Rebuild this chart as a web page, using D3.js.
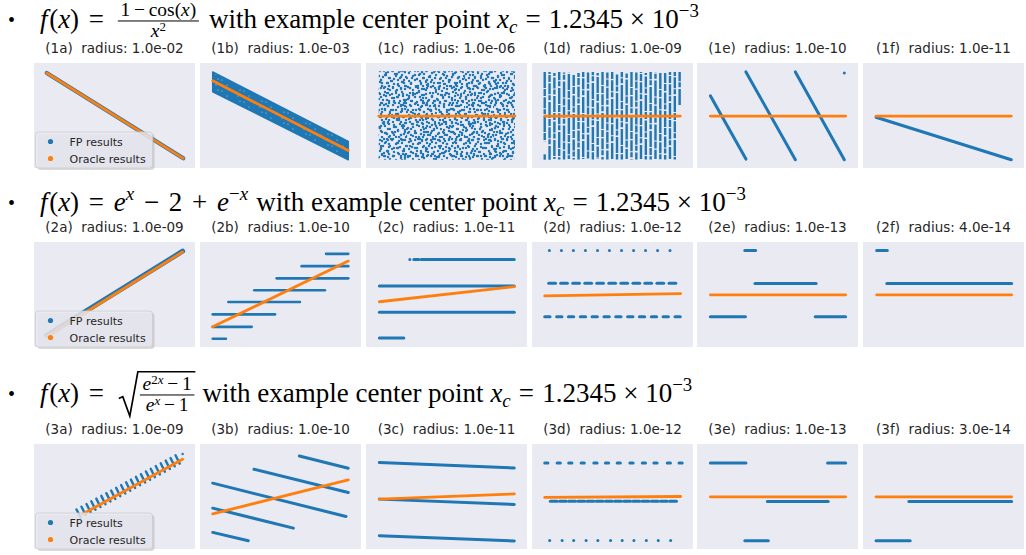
<!DOCTYPE html>
<html>
<head>
<meta charset="utf-8">
<script src="https://cdn.jsdelivr.net/npm/d3@7"></script>
<style>
  body { margin: 0; background: #fff; }
  svg { display: block; }
  .ptitle { font-family: "DejaVu Sans"; font-size: 13.5px; fill: #262626; }
  .legtext { font-family: "DejaVu Sans"; font-size: 11px; fill: #262626; }
  .hdr text { font-family: "Liberation Serif"; fill: #000; }
</style>
</head>
<body>
<svg id="chart" width="1026" height="555"></svg>
<script>
// ---- labels ----
const panelLetters = ['a', 'b', 'c', 'd', 'e', 'f'];
const radii = [
  ['1.0e-02', '1.0e-03', '1.0e-06', '1.0e-09', '1.0e-10', '1.0e-11'],
  ['1.0e-09', '1.0e-10', '1.0e-11', '1.0e-12', '1.0e-13', '4.0e-14'],
  ['1.0e-09', '1.0e-10', '1.0e-11', '1.0e-12', '1.0e-13', '3.0e-14']
];
const legendLabels = ['FP results', 'Oracle results'];
const centerMantissa = '1.2345';
const centerExponent = '−3';

// ---- data: segments [x0, y0, x1, y1] in panel units (0..1) ----
// row 1: (1 - cos x) / x^2
const fp1a = [[0.079, 0.905, 0.927, 0.092]];
const oracle1a = [0.079, 0.905, 0.927, 0.092];
const band1b = [[0.079, 0.915], [0.921, 0.252], [0.921, 0.079], [0.079, 0.726]];
const oracle1b = [0.079, 0.83, 0.921, 0.167];
const cloud1c = [0.079, 0.079, 0.925, 0.921];
const oracle1c = [0.079, 0.495, 0.925, 0.495];
const fp1d = [
  [0.079, 0.915, 0.079, 0.252], [0.079, 0.13, 0.079, 0.079],
  [0.109, 0.915, 0.109, 0.079], [0.139, 0.905, 0.139, 0.085],
  [0.169, 0.915, 0.169, 0.082], [0.199, 0.91, 0.199, 0.08],
  [0.229, 0.915, 0.229, 0.085], [0.259, 0.885, 0.259, 0.08],
  [0.289, 0.905, 0.289, 0.082], [0.318, 0.915, 0.318, 0.085],
  [0.348, 0.91, 0.348, 0.08], [0.378, 0.915, 0.378, 0.082],
  [0.408, 0.905, 0.408, 0.085], [0.438, 0.915, 0.438, 0.08],
  [0.468, 0.91, 0.468, 0.082], [0.498, 0.915, 0.498, 0.085],
  [0.528, 0.905, 0.528, 0.08], [0.558, 0.915, 0.558, 0.082],
  [0.588, 0.9, 0.588, 0.085], [0.618, 0.915, 0.618, 0.08],
  [0.648, 0.91, 0.648, 0.082], [0.677, 0.915, 0.677, 0.085],
  [0.707, 0.905, 0.707, 0.08], [0.737, 0.915, 0.737, 0.082],
  [0.767, 0.91, 0.767, 0.085], [0.797, 0.915, 0.797, 0.08],
  [0.827, 0.905, 0.827, 0.082], [0.857, 0.915, 0.857, 0.085],
  [0.887, 0.915, 0.887, 0.08], [0.917, 0.915, 0.917, 0.6]
];
const oracle1d = [0.079, 0.495, 0.921, 0.495];
const fp1e = [[0.083, 0.688, 0.304, 0.085], [0.304, 0.915, 0.611, 0.079],
              [0.611, 0.915, 0.915, 0.079], [0.915, 0.905, 0.915, 0.905]];
const oracle1e = [0.083, 0.495, 0.923, 0.495];
const fp1f = [[0.081, 0.483, 0.921, 0.079]];
const oracle1f = [0.081, 0.495, 0.921, 0.495];

// row 2: e^x - 2 + e^-x
const fp2a = [[0.079, 0.11, 0.923, 0.912]];
const oracle2a = [0.079, 0.10, 0.923, 0.905];
const fp2b = [
  [0.079, 0.079, 0.161, 0.079], [0.079, 0.192, 0.321, 0.192],
  [0.079, 0.311, 0.466, 0.311], [0.176, 0.428, 0.621, 0.428],
  [0.337, 0.541, 0.776, 0.541], [0.476, 0.654, 0.921, 0.654],
  [0.631, 0.770, 0.921, 0.770], [0.783, 0.887, 0.921, 0.887]
];
const oracle2b = [0.079, 0.192, 0.921, 0.818];
const fp2c = [
  [0.272, 0.833, 0.272, 0.833], [0.297, 0.833, 0.328, 0.833],
  [0.343, 0.833, 0.921, 0.833], [0.083, 0.582, 0.921, 0.582],
  [0.083, 0.330, 0.921, 0.330], [0.083, 0.085, 0.235, 0.085]
];
const oracle2c = [0.083, 0.431, 0.921, 0.575];
const dotsTop2d = [0.108, 0.183, 0.257, 0.332, 0.407, 0.481, 0.556, 0.631, 0.705, 0.780, 0.857];
const dashMid2d = [0.104, 0.178, 0.253, 0.328, 0.402, 0.477, 0.552, 0.627, 0.701, 0.776, 0.851];
const dashLow2d = [0.079, 0.153, 0.226, 0.300, 0.373, 0.447, 0.520, 0.594, 0.667, 0.741, 0.814, 0.888];
const fp2d = [].concat(
  dotsTop2d.map(x => [x, 0.918, x, 0.918]),
  dashMid2d.map(x => [x, 0.607, x + 0.042, 0.607]),
  dashLow2d.map(x => [x, 0.289, x + 0.033, 0.289])
);
const oracle2d = [0.079, 0.487, 0.923, 0.509];
const fp2e = [[0.297, 0.918, 0.364, 0.918], [0.360, 0.604, 0.740, 0.604],
              [0.083, 0.289, 0.301, 0.289], [0.734, 0.289, 0.923, 0.289]];
const oracle2e = [0.083, 0.497, 0.923, 0.497];
const fp2f = [[0.085, 0.918, 0.151, 0.918], [0.148, 0.604, 0.923, 0.604]];
const oracle2f = [0.085, 0.497, 0.923, 0.497];

// row 3: sqrt((e^2x - 1) / (e^x - 1))
const hatch3a = [
  [0.277, 0.337], [0.308, 0.363], [0.339, 0.389], [0.369, 0.414], [0.400, 0.440],
  [0.431, 0.466], [0.462, 0.492], [0.492, 0.517], [0.523, 0.543], [0.554, 0.569],
  [0.585, 0.595], [0.615, 0.621], [0.646, 0.647], [0.677, 0.673], [0.708, 0.699],
  [0.738, 0.724], [0.769, 0.750], [0.800, 0.776], [0.831, 0.802], [0.861, 0.827],
  [0.892, 0.853]
];
const fp3a = hatch3a.map(([x, y]) => [x - 0.013, y + 0.04, x + 0.013, y - 0.04])
  .concat([[0.923, 0.905, 0.923, 0.905]]);
const oracle3a = [0.300, 0.331, 0.923, 0.854];
const fp3b = [
  [0.617, 0.886, 0.921, 0.769], [0.335, 0.759, 0.921, 0.538],
  [0.079, 0.627, 0.907, 0.310], [0.079, 0.389, 0.580, 0.199],
  [0.079, 0.158, 0.300, 0.079]
];
const oracle3b = [0.079, 0.335, 0.921, 0.658];
const fp3c = [[0.083, 0.823, 0.921, 0.772], [0.083, 0.475, 0.921, 0.424], [0.083, 0.127, 0.921, 0.076]];
const oracle3c = [0.083, 0.475, 0.921, 0.525];
const dashTop3d = [0.079, 0.156, 0.228, 0.305, 0.384, 0.456, 0.529, 0.608, 0.685, 0.757, 0.840, 0.913];
const dashMid3d = [0.114, 0.171, 0.228, 0.285, 0.342, 0.399, 0.456, 0.513, 0.570, 0.627, 0.684, 0.741, 0.798, 0.855];
const dotsLow3d = [0.110, 0.187, 0.259, 0.336, 0.409, 0.488, 0.560, 0.633, 0.710, 0.784, 0.861];
const fp3d = [].concat(
  dashTop3d.map(x => [x, 0.818, x + 0.02, 0.818]),
  dashMid3d.map(x => [x, 0.455, x + 0.042, 0.455]),
  dotsLow3d.map(x => [x, 0.082, x, 0.082])
);
const oracle3d = [0.079, 0.491, 0.923, 0.5];
const fp3e = [[0.083, 0.820, 0.304, 0.820], [0.811, 0.820, 0.923, 0.820],
              [0.437, 0.453, 0.815, 0.453], [0.297, 0.079, 0.443, 0.079]];
const oracle3e = [0.083, 0.497, 0.923, 0.497];
const fp3f = [[0.285, 0.453, 0.923, 0.453], [0.081, 0.079, 0.293, 0.079]];
const oracle3f = [0.081, 0.497, 0.923, 0.497];

// ---- layout / style ----
const BLUE = '#1f77b4', ORANGE = '#ff7f0e', PANEL_BG = '#eaeaf2';
const colLeft = [34, 200, 366, 532, 697, 863];
const rowTop = [63, 242, 444];
const panelW = 161, panelH = 105;
const headerBase = [28, 211, 402];
const FS = 27;

const panels = [
  [{ fp: fp1a, oracle: oracle1a, fpW: 4.2, legend: true }, { band: band1b, oracle: oracle1b },
   { cloud: cloud1c, oracle: oracle1c }, { fp: fp1d, oracle: oracle1d, fpW: 2.4, dash: '16,1,7,1.4,11,1,5,1.6' },
   { fp: fp1e, oracle: oracle1e }, { fp: fp1f, oracle: oracle1f }],
  [{ fp: fp2a, oracle: oracle2a, fpW: 5, legend: true }, { fp: fp2b, oracle: oracle2b, fpW: 2.6 },
   { fp: fp2c, oracle: oracle2c }, { fp: fp2d, oracle: oracle2d },
   { fp: fp2e, oracle: oracle2e }, { fp: fp2f, oracle: oracle2f }],
  [{ fp: fp3a, oracle: oracle3a, fpW: 2.4, legend: true }, { fp: fp3b, oracle: oracle3b },
   { fp: fp3c, oracle: oracle3c }, { fp: fp3d, oracle: oracle3d },
   { fp: fp3e, oracle: oracle3e }, { fp: fp3f, oracle: oracle3f }]
];

const svg = d3.select('#chart');
const defs = svg.append('defs');

// overlapping speckle textures of different tile size, so the cloud looks irregular
const speckles = [
  ['speckA', 17, [[2,3],[8,1],[14,4],[5,8],[11,7],[16,10],[1,13],[7,12],[13,15],[10,3],[3,16],[15,1]]],
  ['speckB', 23, [[1,2],[6,5],[12,2],[18,4],[21,9],[3,10],[9,9],[15,8],[20,14],[2,18],[7,15],
                  [12,13],[17,18],[22,21],[10,20],[5,22],[14,17],[19,1],[8,3],[13,11]]],
  ['speckC', 29, [[4,1],[11,6],[20,3],[26,9],[2,12],[9,17],[17,11],[24,19],[5,25],[14,23],
                  [21,27],[28,14],[12,28],[0,20],[18,16],[7,8],[25,24]]]
];
speckles.forEach(([id, size, pts]) => {
  const pat = defs.append('pattern').attr('id', id)
    .attr('patternUnits', 'userSpaceOnUse').attr('width', size).attr('height', size);
  pts.forEach(([cx, cy]) => pat.append('circle').attr('cx', cx).attr('cy', cy).attr('r', 1.25).attr('fill', BLUE));
});

// dense texture for the noisy band
const dense = defs.append('pattern').attr('id', 'dense')
  .attr('patternUnits', 'userSpaceOnUse').attr('width', 11).attr('height', 11);
dense.append('rect').attr('width', 11).attr('height', 11).attr('fill', BLUE);
[[2, 3], [7, 8], [9, 2]].forEach(([cx, cy]) =>
  dense.append('circle').attr('cx', cx).attr('cy', cy).attr('r', 0.6).attr('fill', '#b8cfe6'));

function drawPanel(p, r, c) {
  const left = colLeft[c], top = rowTop[r];
  const x = d3.scaleLinear().domain([0, 1]).range([left, left + panelW]);
  const y = d3.scaleLinear().domain([0, 1]).range([top + panelH, top]);
  const g = svg.append('g');

  g.append('rect').attr('x', left).attr('y', top)
    .attr('width', panelW).attr('height', panelH).attr('fill', PANEL_BG);

  if (p.band) {
    g.append('path')
      .attr('d', d3.line().x(d => x(d[0])).y(d => y(d[1]))(p.band) + 'Z')
      .attr('fill', 'url(#dense)')
      .attr('stroke', BLUE).attr('stroke-width', 1.5).attr('stroke-linejoin', 'round');
  }
  if (p.cloud) {
    const [x0, y0, x1, y1] = p.cloud;
    speckles.forEach(([id]) =>
      g.append('rect').attr('x', x(x0)).attr('y', y(y1))
        .attr('width', x(x1) - x(x0)).attr('height', y(y0) - y(y1))
        .attr('fill', `url(#${id})`));
  }
  if (p.fp) {
    g.selectAll('line.fp').data(p.fp).join('line')
      .attr('class', 'fp')
      .attr('x1', d => x(d[0])).attr('y1', d => y(d[1]))
      .attr('x2', d => x(d[2])).attr('y2', d => y(d[3]))
      .attr('stroke', BLUE).attr('stroke-width', p.fpW || 3)
      .attr('stroke-linecap', p.dash ? 'butt' : 'round')
      .attr('stroke-dasharray', p.dash || null)
      .attr('stroke-dashoffset', (d, i) => p.dash ? i * 7 : null);
  }
  const o = p.oracle;
  g.append('line')
    .attr('x1', x(o[0])).attr('y1', y(o[1])).attr('x2', x(o[2])).attr('y2', y(o[3]))
    .attr('stroke', ORANGE).attr('stroke-width', 2.8).attr('stroke-linecap', 'round');

  g.append('text').attr('class', 'ptitle')
    .attr('x', left + panelW / 2).attr('y', top - 10)
    .attr('text-anchor', 'middle').attr('xml:space', 'preserve')
    .text(`(${r + 1}${panelLetters[c]})  radius: ${radii[r][c]}`);

  if (p.legend) {
    const lg = g.append('g').attr('transform', `translate(${left + 1.5},${top + 69})`);
    lg.append('rect').attr('x', 2).attr('y', 2).attr('width', 117).attr('height', 36)
      .attr('rx', 3).attr('fill', '#999').attr('opacity', 0.35);
    lg.append('rect').attr('width', 117).attr('height', 36).attr('rx', 3)
      .attr('fill', PANEL_BG).attr('fill-opacity', 0.8).attr('stroke', '#cccccc').attr('stroke-width', 0.8);
    legendLabels.forEach((lab, i) => {
      lg.append('circle').attr('cx', 15).attr('cy', 9.5 + i * 17).attr('r', 2.6)
        .attr('fill', i ? ORANGE : BLUE);
      lg.append('text').attr('class', 'legtext').attr('x', 34).attr('y', 13.5 + i * 17).text(lab);
    });
  }
}

panels.forEach((row, r) => row.forEach((p, c) => drawPanel(p, r, c)));

// ---- header formulas ----
const T = (s, o = {}) => Object.assign({ s }, o);
const lead = [T('f', { it: 1 }), { gap: 0.06 }, T('('), T('x', { it: 1 }), T(')'), { gap: 0.36 }, T('='), { gap: 0.36 }];
const tail = [{ gap: 0.3 }, T('with example center point'), { gap: 0.25 },
  T('x', { it: 1 }), T('c', { it: 1, sc: 0.7, dy: 0.2 }), { gap: 0.3 }, T('='), { gap: 0.3 },
  T(centerMantissa), { gap: 0.25 }, T('×'), { gap: 0.25 }, T('10'),
  T(centerExponent, { sc: 0.7, dy: -0.42 })];

function seq(g, pieces, x0, base) {
  let cx = x0;
  pieces.forEach(p => {
    if (p.gap) { cx += p.gap * FS; return; }
    const t = g.append('text').attr('x', cx).attr('y', base + (p.dy || 0) * FS)
      .attr('font-size', FS * (p.sc || 1))
      .attr('font-style', p.it ? 'italic' : null).text(p.s);
    cx += t.node().getComputedTextLength();
  });
  return cx;
}

function frac(g, x0, base, num, den) {
  const bar = base - 0.26 * FS;
  const gn = g.append('g'), gd = g.append('g');
  const wn = seq(gn, num, 0, bar - 0.19 * FS);
  const wd = seq(gd, den, 0, bar + 0.58 * FS);
  const w = Math.max(wn, wd) + 0.2 * FS;
  gn.attr('transform', `translate(${x0 + (w - wn) / 2},0)`);
  gd.attr('transform', `translate(${x0 + (w - wd) / 2},0)`);
  g.append('line').attr('x1', x0).attr('x2', x0 + w).attr('y1', bar).attr('y2', bar)
    .attr('stroke', '#000').attr('stroke-width', 1);
  return x0 + w;
}

const S = 0.72, SS = 0.48;
function header(r) {
  const base = headerBase[r];
  const g = svg.append('g').attr('class', 'hdr');
  g.append('text').attr('x', 8).attr('y', base - 1).attr('font-size', 20).text('•');
  let cx = seq(g, lead, 40, base);
  if (r === 0) {
    cx = frac(g, cx + 4, base,
      [T('1', { sc: S }), { gap: 0.14 }, T('−', { sc: S }), { gap: 0.14 }, T('cos(', { sc: S }),
       T('x', { it: 1, sc: S }), T(')', { sc: S })],
      [T('x', { it: 1, sc: S }), T('2', { sc: SS, dy: -0.22 })]) + 2;
  } else if (r === 1) {
    cx = seq(g, [T('e', { it: 1 }), T('x', { it: 1, sc: 0.7, dy: -0.4 }), { gap: 0.36 }, T('−'), { gap: 0.36 },
      T('2'), { gap: 0.36 }, T('+'), { gap: 0.36 }, T('e', { it: 1 }),
      T('−', { sc: 0.7, dy: -0.4 }), T('x', { it: 1, sc: 0.7, dy: -0.4 })], cx, base);
  } else {
    const x0 = cx + 5;
    const inner = x0 + 0.78 * FS;
    const end = frac(g, inner, base,
      [T('e', { it: 1, sc: S }), T('2', { sc: SS, dy: -0.22 }), T('x', { it: 1, sc: SS, dy: -0.22 }),
       { gap: 0.14 }, T('−', { sc: S }), { gap: 0.14 }, T('1', { sc: S })],
      [T('e', { it: 1, sc: S }), T('x', { it: 1, sc: SS, dy: -0.22 }),
       { gap: 0.14 }, T('−', { sc: S }), { gap: 0.14 }, T('1', { sc: S })]);
    const yTop = base - 1.12 * FS, yBot = base + 0.52 * FS, yMid = base - 0.2 * FS;
    g.append('path')
      .attr('d', `M${x0},${yMid + 2} L${x0 + 4},${yMid} L${x0 + 11},${yBot} L${inner - 2},${yTop} L${end + 1},${yTop}`)
      .attr('fill', 'none').attr('stroke', '#000').attr('stroke-width', 1.7).attr('stroke-linejoin', 'miter');
    cx = end;
  }
  seq(g, tail, cx, base);
}
[0, 1, 2].forEach(header);
</script>
</body>
</html>
